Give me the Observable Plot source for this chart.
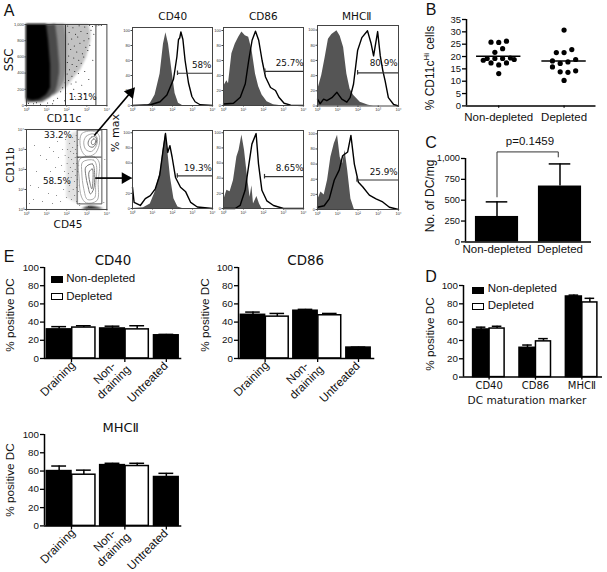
<!DOCTYPE html>
<html><head><meta charset="utf-8">
<script src="https://cdn.jsdelivr.net/npm/d3@7"></script>
<script src="https://cdn.jsdelivr.net/npm/@observablehq/plot@0.6"></script>
<style>
html,body{margin:0;padding:0;background:#fff}
#fig{position:relative;width:607px;height:572px;overflow:hidden;background:#fff}
#fig svg{position:absolute;background:transparent;overflow:visible}
.t{position:absolute;white-space:nowrap;line-height:1;color:#111}
.s{position:absolute;box-sizing:border-box;border:1.5px solid #000}
</style></head><body><div id="fig"></div>
<script>
// ---------- data: flow cytometry histograms [log10 intensity, % max] ----------
const cd40TopFill=[[0,0],[.75,0],[.9,3],[1.13,14],[1.38,42],[1.55,82],[1.67,97],[1.8,82],[1.97,47],[2.13,16],[2.3,3],[2.5,0],[4,0]];
const cd40TopLine=[[0,0],[.9,1],[1.38,5],[1.72,14],[2.05,35],[2.22,65],[2.3,88],[2.36,90],[2.42,98],[2.52,88],[2.63,60],[2.8,30],[2.97,12],[3.13,5],[3.38,1],[4,0]];
const cd86TopFill=[[0,25],[.17,33],[.25,29],[.42,69],[.59,82],[.76,91],[.92,98],[1.09,93],[1.26,91],[1.43,73],[1.6,42],[1.76,25],[1.93,14],[2.18,5],[2.5,1],[2.8,0],[4,0]];
const cd86TopLine=[[0,2],[.5,3],[.84,11],[1.09,29],[1.26,60],[1.43,87],[1.6,99],[1.76,87],[1.93,60],[2.1,38],[2.35,24],[2.6,20],[2.77,11],[3.03,3],[3.36,.5],[4,0]];
const mhcTopFill=[[0,20],[.21,40],[.38,64],[.54,88],[.71,94],[.96,99],[1.12,92],[1.29,77],[1.45,42],[1.61,22],[1.78,14],[2.11,5],[2.52,1],[2.77,0],[4,0]];
const mhcTopLine=[[0,9],[.13,3],[.3,9],[.46,7],[.71,11],[.96,18],[1.2,9],[1.45,5],[1.61,11],[1.78,29],[1.98,73],[2.19,90],[2.47,99],[2.64,83],[2.77,66],[2.97,98],[3.1,66],[3.23,46],[3.34,33],[3.5,11],[3.76,2],[4,0]];
const cd40BotFill=[[0,0],[.55,1],[.89,6],[1.14,22],[1.4,50],[1.53,77],[1.65,99],[1.76,77],[1.9,41],[2.07,13],[2.27,2],[2.5,0],[4,0]];
const cd40BotLine=[[0,28],[.08,8],[.39,4],[.64,13],[.89,17],[1.14,26],[1.36,44],[1.53,77],[1.65,99],[1.76,74],[1.87,83],[1.98,68],[2.15,41],[2.4,28],[2.66,22],[2.91,8],[3.24,2],[4,0]];
const cd86BotFill=[[0,10],[.17,24],[.33,22],[.5,37],[.67,68],[.78,77],[.92,97],[1.05,77],[1.22,37],[1.33,15],[1.42,30],[1.5,6],[1.67,16],[1.8,6],[1.92,0],[4,0]];
const cd86BotLine=[[0,0],[.58,0],[.83,4],[1.08,24],[1.25,55],[1.42,85],[1.63,99],[1.75,59],[1.92,24],[2.17,10],[2.5,4],[3,0],[4,0]];
const mhcBotFill=[[0,12],[.17,23],[.33,19],[.5,39],[.66,69],[.83,87],[.99,98],[1.12,69],[1.24,60],[1.36,78],[1.49,52],[1.65,14],[1.82,0],[4,0]];
const mhcBotLine=[[0,3],[.33,5],[.58,14],[.83,39],[1.07,52],[1.24,71],[1.49,76],[1.65,98],[1.82,60],[2.02,36],[2.23,30],[2.56,19],[2.89,14],[3.22,10],[3.55,3],[4,0]];
// ---------- data: SSC / CD11c density bands [log10 CD11c, SSC low, SSC high] and sparse events ----------
const sscBlack=[[0,80,1000],[.3,60,1000],[.65,70,1000],[.95,120,1000],[1,130,1000],[1.1,170,800],[1.2,220,500]];
const sscMid=[[0,35,1000],[.8,40,1000],[1.2,100,1000],[1.45,170,1000],[1.55,250,800],[1.65,400,500]];
const sscStipple=[[1.3,110,1000],[1.6,170,1000],[1.9,300,1000],[2,450,850]];
const sscLight=[[1.4,130,1000],[2,220,1000],[2.3,320,1000],[2.7,440,1000],[3,600,1000],[3.1,700,1000],[3.2,800,900]];
const sscEvents=[[2.05,980],[2.31,960],[2.62,985],[2.9,970],[3.14,990],[3.28,975],[2.12,900],[2.44,880],[2.71,915],[3.02,890],[3.21,930],[2.25,820],[2.55,845],[2.86,800],[3.1,825],[2.08,760],[2.38,735],[2.66,770],[2.95,720],[3.15,745],[2.2,690],[2.5,660],[2.78,640],[3.05,680],[2.1,610],[2.35,585],[2.6,560],[2.85,600],[2.03,530],[2.27,505],[2.5,480],[2.72,520],[2.14,440],[2.4,420],[2.02,390],[2.26,360],[2.58,395],[2.1,310],[1.92,280],[1.8,220],[2.22,265],[2.46,290],[1.7,170],[1.95,150],[2.35,200],[2.75,250],[3.1,320],[2.9,420],[3.3,560],[1.55,90],[1.35,60],[1.05,30],[.7,15],[.35,22],[.1,28],[1.3,20],[1.9,60],[2.4,110],[2.9,140],[.5,35],[3.35,880],[3.42,990],[3.5,985],[3.6,990],[3.72,988]];
// ---------- data: CD11b / CD45 contours and sparse events ----------
const contourTop1=[[2.66,3.45],[2.74,3.78],[2.98,3.9],[3.39,3.9],[3.61,3.7],[3.61,3.2],[3.39,2.78],[2.98,2.67],[2.74,2.95]];
const contourTop2=[[2.85,3.37],[2.98,3.67],[3.34,3.78],[3.52,3.57],[3.48,3.2],[3.23,2.9],[2.95,3]];
const contourTop3=[[3.07,3.37],[3.23,3.62],[3.44,3.62],[3.48,3.37],[3.31,3.12],[3.11,3.17]];
const contourTop4=[[3.23,3.4],[3.34,3.53],[3.44,3.47],[3.39,3.28],[3.26,3.25]];
const contourLow1=[[2.66,2.53],[3.39,2.62],[3.61,2.37],[3.57,1.37],[3.51,.45],[2.98,.33],[2.74,.62],[2.62,1.53]];
const contourLow2=[[2.79,2.37],[3.34,2.47],[3.48,2.2],[3.44,1.2],[3.38,.57],[3.03,.5],[2.85,1.03],[2.75,1.87]];
const contourLow3=[[2.95,2.12],[3.28,2.28],[3.38,1.95],[3.34,1.03],[3.18,.78],[3.05,1.2],[2.95,1.7]];
const contourLow4=[[3.11,1.87],[3.28,2.03],[3.31,1.53],[3.25,1.03],[3.15,1.37]];
const cd45Band=[[2.75,0],[2.95,.1],[3.2,.16],[3.45,.13],[3.7,.06],[3.85,0]];
const cd45Haze=[[2,.6,3.5],[2.3,.4,3.8],[2.6,.3,3.95]];
const cd45Events=[[.35,.5],[.6,1.1],[.8,.4],[.9,1.6],[1,2.5],[1.1,.8],[1.15,3.1],[1.2,1.9],[1.3,.3],[1.35,2.9],[1.4,1.3],[1.45,2.1],[1.5,.7],[1.55,3.4],[1.6,2.6],[1.65,1.6],[1.7,.4],[1.75,2.2],[1.8,3],[1.85,1],[1.9,1.9],[1.92,2.7],[1.95,3.5],[2,.6],[2,1.4],[2.02,2.3],[2.05,3],[2.08,1.8],[2.1,2.6],[2.12,.9],[2.15,3.3],[2.15,1.2],[2.18,2.1],[2.2,2.9],[2.22,1.6],[2.24,.5],[2.25,2.5],[2.28,3.6],[2.3,1.9],[2.3,3.1],[2.32,1],[2.35,2.3],[2.35,2.8],[2.38,1.4],[2.4,3.4],[2.4,.7],[2.42,2],[2.42,2.6],[2.45,3],[2.45,1.7],[2.47,3.7],[2.48,1.1],[2.5,2.3],[2.5,2.8],[2.5,.4],[2.52,1.5],[2.55,3.2],[2.55,1.9],[2.58,2.6],[2.58,.9],[2.6,3.5],[2.6,2.2],[2.62,1.2],[2.65,.3],[2.65,.2],[.4,3.2],[.7,2.7],[.5,1.9],[.2,1.2],[1.05,3.6],[.15,.3],[3.1,.15],[3.85,.35],[3.9,2.5]];
// ---------- data: panel B ----------
const nonDepletedOffset=[-1,0,1,.5,-.5,-2,-1.5,-1,-.5,0,.5,1,1.5,2,0];
const nonDepletedPct=[25.8,25.7,26.2,23.2,21.7,18.5,19.2,17.4,19.2,16.6,19.2,17.4,19.4,18.8,13.1];
const depletedOffset=[0,-1,0,1,-1.5,-.5,.5,1.5,-1.5,-.5,.5,1.5,0];
const depletedPct=[30.7,21.6,21.6,22.8,18.2,17.2,17.8,18.8,15.8,13.8,13.6,14.2,10.3];
const bGroups=["Non-depleted","Depleted"];
const bMeans=[20.1,18.2];
// ---------- data: panel C ----------
const cMeans=[305,670];
const cErrors=[480,935];
const pValue="p=0.1459";
// ---------- data: panel D ----------
const dCategories=["CD40","CD86","MHCⅡ"];
const dValues=[52,53,32,39,88,81.5];
const dErrors=[54.5,55.5,35,42,89.5,86];
// ---------- data: panel E ----------
const eCategories=["Draining","Non-\ndraining","Untreated"];
const eCD40=[32,34,33,32,25.5];
const eCD40Err=[35,36,35.5,36,26.5];
const eCD86=[48,46,52.5,47.5,12];
const eCD86Err=[51,49.5,54,49.5,12.5];
const eMHC=[60,56,66.5,65.5,53.5];
const eMHCErr=[65.5,61,68.5,68.5,57.5];

// ---------- layout helpers ----------
const fig=document.getElementById("fig");
const SANS="'Liberation Sans',Arial,sans-serif", VERD="'DejaVu Sans',Verdana,sans-serif";
function label(html,x,y,size,family=VERD,rot=0){
  const e=document.createElement("div");e.className="t";e.innerHTML=html;
  e.style.cssText=`left:${x}px;top:${y}px;font-size:${size}px;font-family:${family};transform:translate(-50%,-50%) rotate(${rot}deg)`;
  fig.append(e);
}
function swatch(x,y,w,h,fill){
  const e=document.createElement("div");e.className="s";
  e.style.cssText=`left:${x}px;top:${y}px;width:${w}px;height:${h}px;background:${fill}`;
  fig.append(e);
}
function panel(L,R,T,B,xd,yd,marks,mb=50){
  const ml=45,mr=8,mt=8;
  const svg=Plot.plot({width:R-L+ml+mr,height:B-T+mt+mb,marginLeft:ml,marginRight:mr,marginTop:mt,marginBottom:mb,
    x:{domain:xd,axis:null},y:{domain:yd,axis:null},marks,
    style:{background:"transparent",overflow:"visible",fontFamily:SANS}});
  svg.style.left=(L-ml)+"px";svg.style.top=(T-mt)+"px";
  fig.append(svg);return svg;
}
function soften(svg,areaBlur,lineBlur){
  svg.querySelectorAll('g[aria-label="area"]').forEach(g=>g.style.filter=`blur(${areaBlur}px)`);
  svg.querySelectorAll('g[aria-label="line"]').forEach(g=>g.style.filter=`blur(${lineBlur}px)`);
}
const sup=["⁰","¹","²","³","⁴"];
const logFmt=d=>"10"+sup[d];
const tinyX=()=>Plot.axisX({ticks:[0,1,2,3,4],tickFormat:logFmt,fontSize:4,tickSize:1.5,tickPadding:1,label:null,stroke:"#444",fill:"#333"});
const tinyY=(t,f)=>Plot.axisY({ticks:t,tickFormat:f,fontSize:4,tickSize:1.5,tickPadding:1,label:null,stroke:"#444",fill:"#333"});
const band=(a,fill)=>Plot.area(a,{x1:d=>d[0],y1:d=>d[1],y2:d=>d[2],fill});
function hist(L,R,T,B,topY,fill,line,gateY,gateX){
  const s=panel(L,R,T,B,[0,4],[0,topY],[
    Plot.area(fill,{x1:d=>d[0],y1:()=>0,y2:d=>d[1],fill:"#555"}),
    Plot.line(line,{x:d=>d[0],y:d=>d[1],stroke:"#000",strokeWidth:1.4}),
    Plot.ruleY([gateY],{x1:()=>gateX,x2:()=>4,stroke:"#333",strokeWidth:1.2}),
    Plot.ruleX([gateX],{y1:()=>gateY-3,y2:()=>gateY+3,stroke:"#333",strokeWidth:1.2}),
    Plot.frame({stroke:"#444",strokeWidth:1}),
    tinyX(),tinyY([0,20,40,60,80,100])
  ]);
  soften(s,.3,.25);
}
// label offsets from each rotated category's tick, in pixels
const eLabelDx=[-14,-16,-19], eLabelDy=[20,19,23.5];
function barPanel(L,R,T,B,slots,xd,vals,errs,ticks,tickText,rotated){
  const idx=vals.map((_,i)=>i);
  const isW=i=>slots.length===5?(i===1||i===3):(i%2===1);
  const marks=[
    Plot.ruleX(idx,{x:i=>slots[i]+.5,y1:i=>vals[i],y2:i=>errs[i],stroke:"#000",strokeWidth:1.5}),
    Plot.ruleY(idx,{y:i=>errs[i],x1:i=>slots[i]+.2,x2:i=>slots[i]+.8,stroke:"#000",strokeWidth:1.5}),
    Plot.rect(idx,{x1:i=>slots[i]+(isW(i)?.03:0),x2:i=>slots[i]+(isW(i)?.97:1),y1:()=>0,y2:i=>vals[i],
      fill:i=>isW(i)?"#fff":"#000",stroke:"#000",strokeWidth:1.5}),
    Plot.ruleX([xd[0]],{stroke:"#000",strokeWidth:1.5}),
    Plot.ruleY([0],{stroke:"#000",strokeWidth:1.5}),
    Plot.axisY({ticks:[0,20,40,60,80,100],tickSize:4,tickPadding:1.5,fontSize:9.8,label:null,fontFamily:SANS,stroke:"#000",strokeWidth:1.3,fill:"#111"})
  ];
  if(rotated){
    marks.push(Plot.axisX({ticks,tickFormat:()=>"",tickSize:4,label:null,stroke:"#000",strokeWidth:1.3}));
    ticks.forEach((t,i)=>marks.push(Plot.text([t],{x:d=>d,y:()=>0,text:()=>tickText[i],rotate:-45,textAnchor:"middle",lineAnchor:"middle",dx:eLabelDx[i],dy:eLabelDy[i],fontSize:11.8,fontFamily:SANS,fill:"#111",lineHeight:1.1})));
  } else {
    marks.push(Plot.axisX({ticks,tickFormat:(d,i)=>tickText[i],tickSize:3,tickPadding:2,label:null,fontSize:10,fontFamily:VERD,stroke:"#000",strokeWidth:1.3,fill:"#111"}));
  }
  return panel(L,R,T,B,xd,[0,100],marks,rotated?46:30);
}

// ---------- panel A ----------
const sscPlot=panel(26.3,106.7,24,105,[0,4],[0,1000],[
  band(sscLight,"#c2c2c2"),
  band(sscStipple,"#8c8c8c"),
  band(sscMid,"#4a4a4a"),
  band(sscBlack,"#000"),
  Plot.dot(sscEvents,{x:d=>d[0],y:d=>d[1],r:.5,fill:"#000"}),
  Plot.ruleX([1.94],{stroke:"#333",strokeWidth:1}),
  Plot.ruleX([3.45],{stroke:"#888",strokeWidth:1.6}),
  Plot.frame({stroke:"#444",strokeWidth:1}),
  tinyX(),
  Plot.axisY({ticks:[0,200,400,600,800,1000],fontSize:4,tickSize:1.5,tickPadding:1,label:null,stroke:"#444",fill:"#333"})
]);
soften(sscPlot,.8,0);
hist(132,212,27,105,104,cd40TopFill,cd40TopLine,43,2.25);
hist(223,303,27,105,104,cd86TopFill,cd86TopLine,45.6,2.07);
hist(317,398,24.5,105,106,mhcTopFill,mhcTopLine,43.7,1.98);
hist(132,212,130,208,103,cd40BotFill,cd40BotLine,43,2.24);
hist(223,303,130,208,103,cd86BotFill,cd86BotLine,42,2.05);
hist(317,398,130,209,104.4,mhcBotFill,mhcBotLine,39,1.95);
const contours=[contourTop1,contourTop2,contourTop3,contourTop4,contourLow1,contourLow2,contourLow3,contourLow4];
const cd45Plot=panel(26.3,106.7,129,209,[0,4],[0,4],[
  band(cd45Haze,"#e2e2e2"),
  Plot.dot(cd45Events,{x:d=>d[0],y:d=>d[1],r:.42,fill:"#111"}),
  ...contours.map((c,i)=>Plot.line(c,{x:d=>d[0],y:d=>d[1],curve:"catmull-rom-closed",stroke:i%4>1?"#777":"#aaa",strokeWidth:1})),
  Plot.area(cd45Band,{x1:d=>d[0],y1:()=>0,y2:d=>d[1],fill:"#111"}),
  Plot.link([[2.52,.28,3.75,.28],[3.75,.28,3.75,3.97],[3.75,3.97,2.52,3.97],[2.52,3.97,2.52,.28]],{x1:d=>d[0],y1:d=>d[1],x2:d=>d[2],y2:d=>d[3],stroke:"#555",strokeWidth:1}),
  Plot.ruleY([2.62],{x1:()=>2.52,x2:()=>3.75,stroke:"#333",strokeWidth:1}),
  Plot.frame({stroke:"#444",strokeWidth:1}),
  tinyX(),tinyY([0,1,2,3,4],logFmt),
  // arrows pointing from the gates to the histograms
  Plot.link([[3.37,3.7,5.18,5.85]],{x1:d=>d[0],y1:d=>d[1],x2:d=>d[2],y2:d=>d[3],stroke:"#000",strokeWidth:1.7}),
  Plot.dot([[5.18,5.85]],{x:d=>d[0],y:d=>d[1],symbol:"triangle",rotate:40,r:4.4,fill:"#000"}),
  Plot.link([[3.42,1.57,4.91,1.57]],{x1:d=>d[0],y1:d=>d[1],x2:d=>d[2],y2:d=>d[3],stroke:"#000",strokeWidth:1.7}),
  Plot.dot([[4.91,1.57]],{x:d=>d[0],y:d=>d[1],symbol:"triangle",rotate:90,r:4.4,fill:"#000"})
]);
soften(cd45Plot,1.2,.45);
label("A",9,11,16,SANS);
label("SSC",10,60,11.5,VERD,-90);
label("CD11c",64,118,10.5);
label("CD11b",10,165,10.5,VERD,-90);
label("CD45",68,224,10.5);
label("% max",115,133,11,VERD,-90);
label("CD40",172.7,15.7,10.5);
label("CD86",263.3,15.7,10.5);
label("MHCⅡ",356.7,15.7,10.5);
label("1.31%",82.7,97,8.8);
label("33.2%",58,135,8.8);
label("58.5%",57,181,8.8);
label("58%",201.7,65,8.8);
label("25.7%",289.7,63,8.8);
label("80.9%",383.7,62.7,8.8);
label("19.3%",198,167.7,8.8);
label("8.65%",289.7,167.7,8.8);
label("25.9%",383.7,171.7,8.8);

// ---------- panel B ----------
const bStep=8.45;
const bDots=[...nonDepletedOffset.map((o,i)=>[o,nonDepletedPct[i]]),...depletedOffset.map((o,i)=>[o+bStep,depletedPct[i]])];
panel(465.5,595,19.3,105.7,[-4.17,12.58],[0,35],[
  Plot.dot(bDots,{x:d=>d[0],y:d=>d[1],r:2.6,fill:"#000"}),
  Plot.ruleY(bMeans,{y:d=>d,x1:(d,i)=>i*bStep-2.87,x2:(d,i)=>i*bStep+2.87,stroke:"#000",strokeWidth:1.5}),
  Plot.ruleX([-4.17],{stroke:"#000",strokeWidth:1.5}),
  Plot.ruleY([0],{stroke:"#000",strokeWidth:1.5}),
  Plot.axisY({ticks:[0,5,10,15,20,25,30,35],tickSize:4,tickPadding:1.5,fontSize:9.5,label:null,fontFamily:SANS,stroke:"#000",strokeWidth:1.3,fill:"#111"}),
  Plot.axisX({ticks:[0,bStep],tickFormat:(d,i)=>bGroups[i],tickSize:2.5,tickPadding:4,fontSize:11.5,label:null,fontFamily:SANS,stroke:"#000",fill:"#111"})
]);
label("B",431,10,16,SANS);
label("% CD11c<sup style='font-size:8px'>Hi</sup> cells",429,68,12,SANS,-90);

// ---------- panel C ----------
const cIdx=[0,1];
const cStart=[0,1.46];
panel(465,591,158.3,241.7,[-.23,2.69],[0,1000],[
  Plot.ruleX(cIdx,{x:i=>cStart[i]+.5,y1:i=>cMeans[i],y2:i=>cErrors[i],stroke:"#000",strokeWidth:1.5}),
  Plot.ruleY(cIdx,{y:i=>cErrors[i],x1:i=>cStart[i]+.25,x2:i=>cStart[i]+.75,stroke:"#000",strokeWidth:1.5}),
  Plot.rect(cIdx,{x1:i=>cStart[i],x2:i=>cStart[i]+1,y1:()=>0,y2:i=>cMeans[i],fill:"#000"}),
  Plot.line([[.5,540],[.5,1079],[1.92,1079],[1.92,1019]],{x:d=>d[0],y:d=>d[1],stroke:"#333",strokeWidth:1}),
  Plot.ruleX([-.23],{stroke:"#000",strokeWidth:1.5}),
  Plot.ruleY([0],{stroke:"#000",strokeWidth:1.5}),
  Plot.axisY({ticks:[0,250,500,750,1000],tickSize:4,tickPadding:1.5,fontSize:9.3,label:null,fontFamily:SANS,stroke:"#000",strokeWidth:1.3,fill:"#111"}),
  Plot.axisX({ticks:[.5,1.96],tickFormat:(d,i)=>bGroups[i],tickSize:0,tickPadding:3,fontSize:11.5,label:null,fontFamily:SANS,fill:"#111"})
]);
label("C",431,142.5,16,SANS);
label(pValue,530,142,11.5,SANS);
label("No. of DC/mg",430,196,12,SANS,-90);

// ---------- panel D ----------
barPanel(462.7,601.7,284.7,376.3,[0,1,2.9,3.9,5.8,6.8],[-.6,8.09],dValues,dErrors,[1,3.9,6.8],dCategories,false);
label("D",431,276.5,16,SANS);
label("% positive DC",430,334,11.7,SANS,-90);
label("DC maturation marker",527,400,10.6);
swatch(472.3,286.7,12,7,"#000");swatch(472.3,303.3,12,7,"#fff");
label("Non-depleted",488.3+34,289,11.5,SANS);
label("Depleted",488.3+22.5,305.7,11.5,SANS);

// ---------- panel E ----------
const eSlots=[0,1,2.16,3.16,4.34];
const eTicks=[1,3.16,4.84];
barPanel(43.7,181,267.3,358.3,eSlots,[-.093,5.466],eCD40,eCD40Err,eTicks,eCategories,true);
barPanel(237.7,374,266.7,357.7,eSlots,[-.095,5.51],eCD86,eCD86Err,eTicks,eCategories,true);
barPanel(43.7,181,434.3,525.7,eSlots,[-.093,5.466],eMHC,eMHCErr,eTicks,eCategories,true);
label("E",9,257,16,SANS);
label("CD40",113,260.7,13.4);
label("CD86",305.7,260.7,13.4);
label("MHCⅡ",120.7,426.7,13);
label("% positive DC",9.5,315,11.7,SANS,-90);
label("% positive DC",205,315,11.7,SANS,-90);
label("% positive DC",9.5,480,11.7,SANS,-90);
swatch(50.7,275.7,12.6,7,"#000");swatch(50.7,293.3,12.6,7,"#fff");
label("Non-depleted",66.7+34,279,11.5,SANS);
label("Depleted",66.7+22.5,297,11.5,SANS);
</script></body></html>
